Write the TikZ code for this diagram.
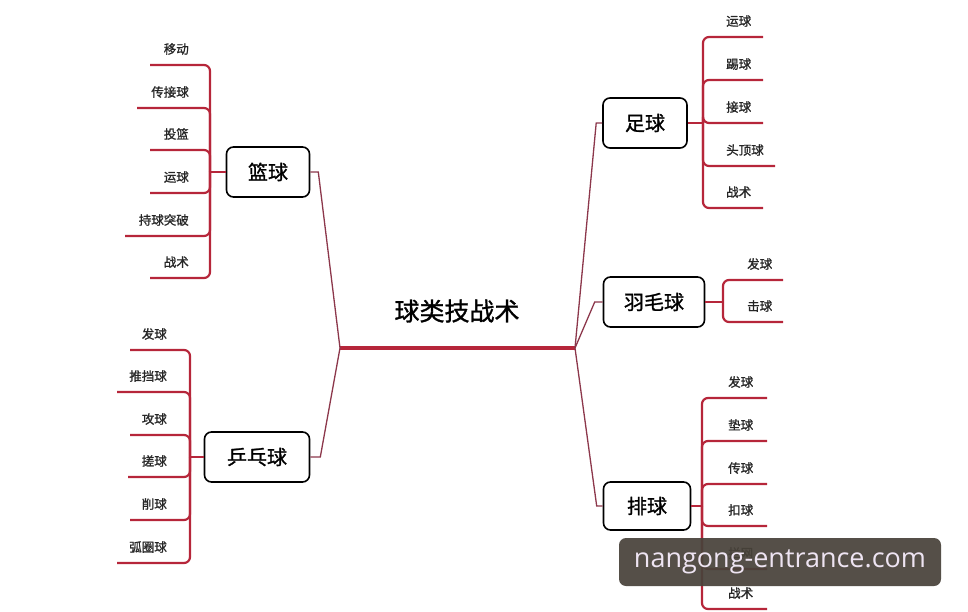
\documentclass[tikz,border=0pt]{standalone}
\usepackage{fontspec}
\setmainfont{Noto Sans CJK SC}
\newfontfamily\heavyfont[FakeBold=1.2]{Noto Sans CJK SC}
\newfontfamily\wmfont{Open Sans}
\definecolor{twigred}{RGB}{182,38,58}
\definecolor{stemred}{RGB}{140,55,75}
\definecolor{wmgray}{RGB}{72,66,58}
\definecolor{wmtext}{RGB}{238,228,242}

\begin{document}
\begin{tikzpicture}
  [x=1pt, y=-1pt,
   topic/.style={draw, line width=1.6pt, rounded corners=7pt, fill=white,
     font=\heavyfont\fontsize{20}{20}\selectfont, inner sep=0pt},
   leaf/.style={font=\heavyfont\fontsize{12.5}{13}\selectfont, text=black!85, inner sep=0pt},
   twig/.style={twigred, line width=2.2pt, rounded corners=6pt},
   stem/.style={stemred, line width=1.3pt}, ]

  \useasboundingbox (0,0) rectangle (968,612);

  % centre
  \node[font=\heavyfont\fontsize{25}{25}\selectfont] (root) at (457,311) {球类技战术};
  \coordinate (hubL) at (340,348);
  \coordinate (hubR) at (575,348);
  \draw[twigred, line width=3.5pt] (hubL) -- (hubR);

  % topics
  \node[topic, minimum width=83pt, minimum height=50pt] (lanqiu) at (268,172) {篮球};
  \node[topic, minimum width=105pt, minimum height=50pt] (pingpang) at (257,457) {乒乓球};
  \node[topic, minimum width=84pt, minimum height=50pt] (zuqiu) at (645,123) {足球};
  \node[topic, minimum width=101pt, minimum height=50pt] (yumao) at (654,302) {羽毛球};
  \node[topic, minimum width=87pt, minimum height=48pt] (paiqiu) at (647,506) {排球};

  \draw[stem] (hubL) -- ([xshift=8pt]lanqiu.east) -- (lanqiu.east);
  \draw[stem] (hubL) -- ([xshift=10pt]pingpang.east) -- (pingpang.east);
  \draw[stem] (hubR) -- ([xshift=-6pt]zuqiu.west) -- (zuqiu.west);
  \draw[stem] (hubR) -- ([xshift=-8pt]yumao.west) -- (yumao.west);
  \draw[stem] (hubR) -- ([xshift=-6pt]paiqiu.west) -- (paiqiu.west);

  % basketball
  \coordinate (lqhub) at (210,172);
  \draw[twig] (lanqiu.west) -- (lqhub);
  \foreach \t/\y/\x [count=\i] in {移动/65/150, 传接球/108/137, 投篮/150/150,
      运球/193/150, 持球突破/236/125, 战术/278/150}{
    \coordinate (lqend\i) at (\x,\y);
    \draw[twig] (lqend\i) -| (lqhub);
    \node[leaf, anchor=south east] (lq\i) at (189,\y-10) {\t};
  }

  % table tennis
  \coordinate (ppqhub) at (190,457);
  \draw[twig] (pingpang.west) -- (ppqhub);
  \foreach \t/\y/\x [count=\i] in {发球/350/130, 推挡球/392/117, 攻球/435/130,
      搓球/477/128, 削球/520/130, 弧圈球/563/117}{
    \coordinate (ppqend\i) at (\x,\y);
    \draw[twig] (ppqend\i) -| (ppqhub);
    \node[leaf, anchor=south east] (ppq\i) at (167,\y-10) {\t};
  }

  % football
  \coordinate (zqhub) at (703,123);
  \draw[twig] (zuqiu.east) -- (zqhub);
  \foreach \t/\y/\x [count=\i] in {运球/37/763, 踢球/80/763, 接球/123/763,
      头顶球/166/775, 战术/208/763}{
    \coordinate (zqend\i) at (\x,\y);
    \draw[twig] (zqend\i) -| (zqhub);
    \node[leaf, anchor=south west] (zq\i) at (726,\y-10) {\t};
  }

  % badminton
  \coordinate (ymqhub) at (723,302);
  \draw[twig] (yumao.east) -- (ymqhub);
  \foreach \t/\y/\x [count=\i] in {发球/280/783, 击球/322/783}{
    \coordinate (ymqend\i) at (\x,\y);
    \draw[twig] (ymqend\i) -| (ymqhub);
    \node[leaf, anchor=south west] (ymq\i) at (747,\y-10) {\t};
  }

  % volleyball
  \coordinate (pqhub) at (702,506);
  \draw[twig] (paiqiu.east) -- (pqhub);
  \foreach \t/\y/\x [count=\i] in {发球/398/767, 垫球/441/767, 传球/484/767,
      扣球/526/767, 拦网/569/767, 战术/609/767}{
    \coordinate (pqend\i) at (\x,\y);
    \draw[twig] (pqend\i) -| (pqhub);
    \node[leaf, anchor=south west] (pq\i) at (728,\y-10) {\t};
  }

  % watermark
  \node[fill=wmgray, fill opacity=0.93, text opacity=1, text=wmtext,
    rounded corners=7pt, minimum width=322pt, minimum height=48pt,
    font=\wmfont\fontsize{27}{27}\selectfont] (mark) at (780,562)
    {nangong-entrance.com};

\end{tikzpicture}
\end{document}
